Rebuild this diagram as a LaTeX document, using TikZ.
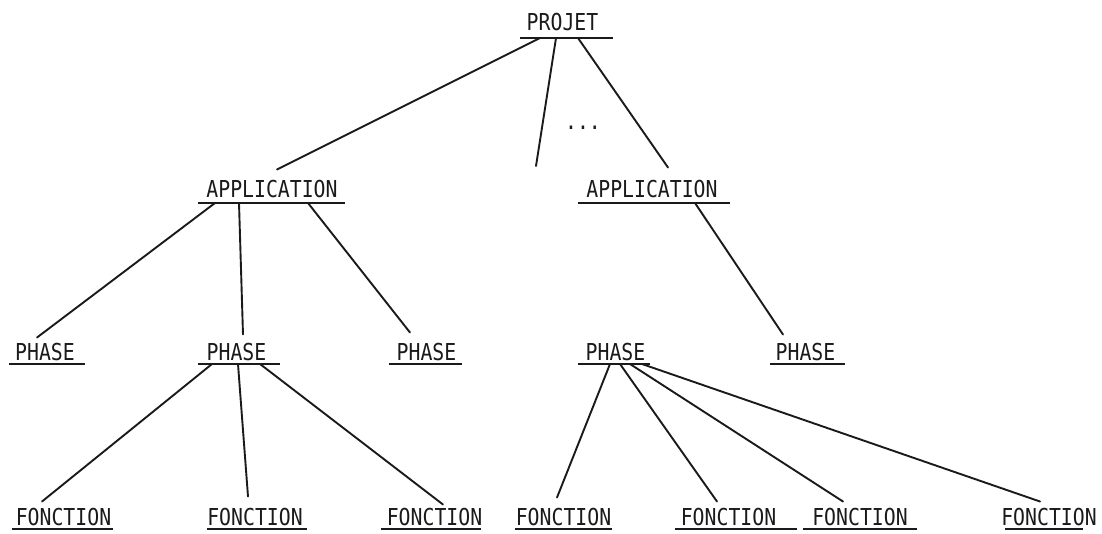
\documentclass[tikz,border=0pt]{standalone}
\usepackage{fontspec}
\newfontfamily\plotfont[FakeStretch=0.85]{DejaVu Sans Mono}
\definecolor{ink}{HTML}{1A1A1A}
\tikzset{
  lbl/.style={font=\plotfont\fontsize{23.3}{24}\selectfont, inner sep=0pt, anchor=base, text=ink},
  ulbar/.style={fill=ink, draw=none, inner sep=0pt, minimum height=2.6pt, rectangle},
  con/.style={draw=ink, line width=1.9pt, line cap=round},
}
\begin{document}
\begin{tikzpicture}[x=1pt,y=-1pt]
\useasboundingbox (0,0) rectangle (1102,533);
% level 0
\node[lbl] (proj) at (562.5,30) {PROJET};
\node[ulbar, minimum width=93pt] (projU) at (566.5,38) {};
% level 1
\node[lbl] (app1) at (272,197) {APPLICATION};
\node[ulbar, minimum width=147pt] (app1U) at (271.5,203) {};
\node[lbl] (app2) at (652,197) {APPLICATION};
\node[ulbar, minimum width=152pt] (app2U) at (654,203) {};
\coordinate (more) at (536,166);
\node[lbl] (dots) at (583,129) {...};
% level 2
\node[lbl] (ph1) at (45,360) {PHASE};
\node[ulbar, minimum width=76pt] (ph1U) at (47,364) {};
\node[lbl] (ph2) at (236.5,360) {PHASE};
\node[ulbar, minimum width=82pt] (ph2U) at (239,364) {};
\node[lbl] (ph3) at (426.5,360) {PHASE};
\node[ulbar, minimum width=73pt] (ph3U) at (425.5,364) {};
\node[lbl] (ph4) at (615.5,360) {PHASE};
\node[ulbar, minimum width=72pt] (ph4U) at (614,364) {};
\node[lbl] (ph5) at (805.5,360) {PHASE};
\node[ulbar, minimum width=75pt] (ph5U) at (807.5,364) {};
% level 3
\node[lbl] (f1) at (63.5,525) {FONCTION};
\node[ulbar, minimum width=101pt] (f1U) at (62.5,529) {};
\node[lbl] (f2) at (255,525) {FONCTION};
\node[ulbar, minimum width=100pt] (f2U) at (257,529) {};
\node[lbl] (f3) at (434.5,525) {FONCTION};
\node[ulbar, minimum width=100pt] (f3U) at (431,529) {};
\node[lbl] (f4) at (563.5,525) {FONCTION};
\node[ulbar, minimum width=97pt] (f4U) at (563.5,529) {};
\node[lbl] (f5) at (728.5,525) {FONCTION};
\node[ulbar, minimum width=122pt] (f5U) at (736,529) {};
\node[lbl] (f6) at (860,525) {FONCTION};
\node[ulbar, minimum width=114pt] (f6U) at (860,529) {};
\node[lbl] (f7) at (1049,525) {FONCTION};
\node[ulbar, minimum width=78pt] (f7U) at (1044,529) {};
% connectors
\draw[con] ([xshift=-26.5pt]projU.center) -- ([xshift=5pt,yshift=10pt]app1.north);
\draw[con] ([xshift=-10.5pt]projU.center) -- (more);
\draw[con] ([xshift=11.5pt]projU.center) -- ([xshift=16pt,yshift=12pt]app2.north);
\draw[con] ([xshift=-56.5pt]app1U.center) -- ([xshift=-8pt,yshift=5pt]ph1.north);
\draw[con] ([xshift=-32.5pt]app1U.center) -- ([xshift=6.5pt,yshift=8pt]ph2.north);
\draw[con] ([xshift=36.5pt]app1U.center) -- ([xshift=-16.5pt,yshift=10pt]ph3.north);
\draw[con] ([xshift=41pt]app2U.center) -- ([xshift=-22.5pt,yshift=8pt]ph5.north);
\draw[con] ([xshift=-27pt]ph2U.center) -- ([xshift=-21.5pt,yshift=6pt]f1.north);
\draw[con] ([xshift=-1pt]ph2U.center) -- ([xshift=-7pt,yshift=11pt]f2.north);
\draw[con] ([xshift=21pt]ph2U.center) -- ([xshift=8.5pt,yshift=3pt]f3.north);
\draw[con] ([xshift=-4pt]ph4U.center) -- ([xshift=-6.5pt,yshift=10pt]f4.north);
\draw[con] ([xshift=6pt]ph4U.center) -- ([xshift=-11.5pt,yshift=6pt]f5.north);
\draw[con] ([xshift=16pt]ph4U.center) -- ([xshift=-17pt,yshift=6pt]f6.north);
\draw[con] ([xshift=28pt]ph4U.center) -- ([xshift=-9pt,yshift=6pt]f7.north);
\end{tikzpicture}
\end{document}
